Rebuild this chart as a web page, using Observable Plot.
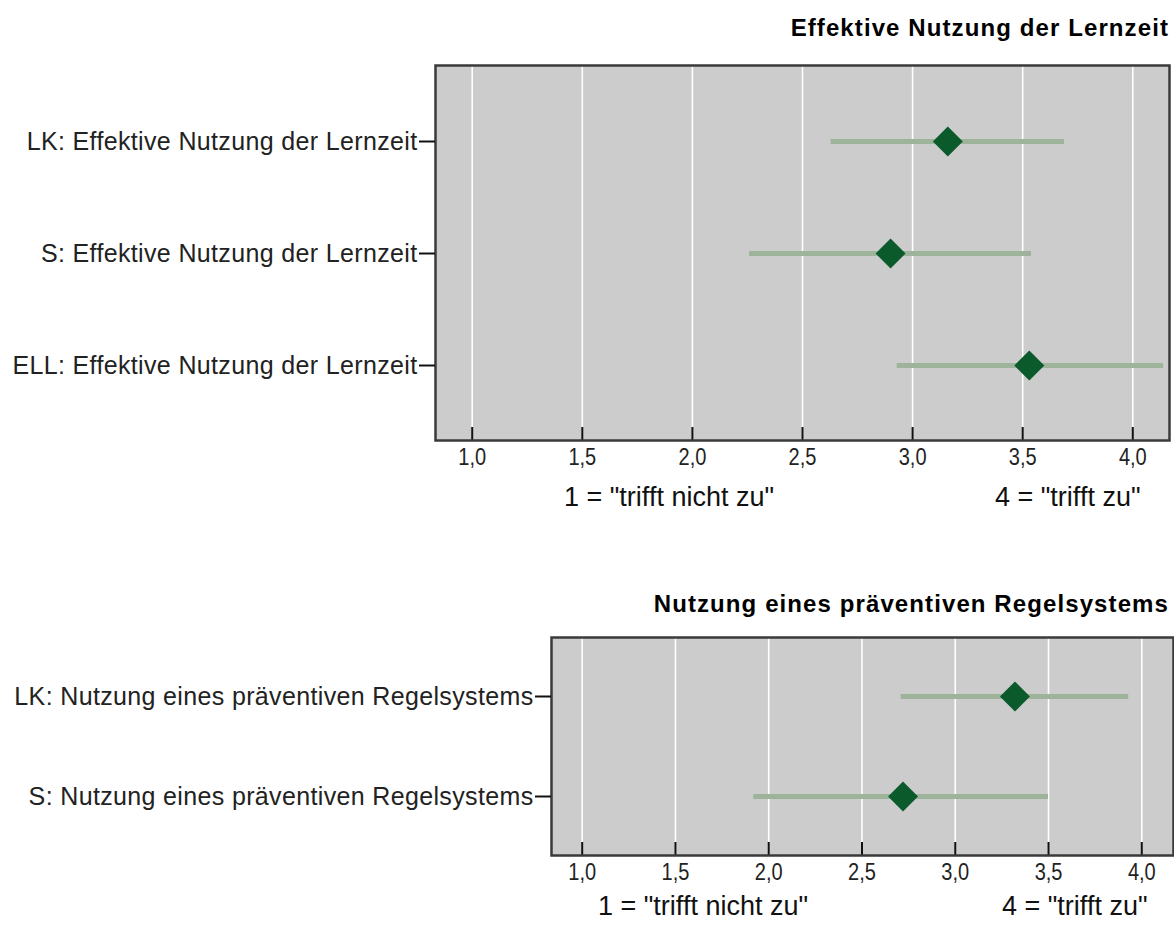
<!DOCTYPE html>
<html>
<head>
<meta charset="utf-8">
<script src="https://cdn.jsdelivr.net/npm/d3@7"></script>
<script src="https://cdn.jsdelivr.net/npm/@observablehq/plot@0.6"></script>
<style>
  html, body { margin: 0; padding: 0; background: #fff; }
  #wrap { position: relative; width: 1174px; height: 925px; overflow: hidden; }
  .panel { position: absolute; left: 0; }
  .title { position: absolute; right: 5px; font-family: "Liberation Sans", Arial, sans-serif; font-weight: bold; font-size: 24px; letter-spacing: 1.1px; color: #000; white-space: nowrap; line-height: 1; }
  .anchor { position: absolute; font-family: "Liberation Sans", Arial, sans-serif; font-size: 27px; color: #111; white-space: nowrap; line-height: 1; }
</style>
</head>
<body>
<div id="wrap"></div>
<script>
// ---- data ----
const topLabels = ["LK: Effektive Nutzung der Lernzeit", "S: Effektive Nutzung der Lernzeit", "ELL: Effektive Nutzung der Lernzeit"];
const topMean = [3.16, 2.90, 3.53];
const topLow  = [2.63, 2.26, 2.93];
const topHigh = [3.69, 3.54, 4.14];

const botLabels = ["LK: Nutzung eines präventiven Regelsystems", "S: Nutzung eines präventiven Regelsystems"];
const botMean = [3.32, 2.72];
const botLow  = [2.71, 1.92];
const botHigh = [3.93, 3.50];

const xTicks = [1, 1.5, 2, 2.5, 3, 3.5, 4];
const titles = ["Effektive Nutzung der Lernzeit", "Nutzung eines präventiven Regelsystems"];
const anchorLow = '1 = "trifft nicht zu"';
const anchorHigh = '4 = "trifft zu"';

// ---- style ----
const REG = '"Liberation Sans", Arial, sans-serif';
const BG = "#cccccc", BAR = "#9db49b", DOT = "#0b5a2c";
const fmt = d => d.toFixed(1).replace(".", ",");

function panel({labels, mean, low, high, width, height, mt, mb, ml, mr, domain, padding}) {
  const data = labels.map((l, i) => ({label: l, mean: mean[i], lo: low[i], hi: high[i]}));
  const plotH = height - mt - mb;
  const svg = Plot.plot({
    width, height,
    marginTop: mt, marginBottom: mb, marginLeft: ml, marginRight: mr,
    style: {background: "transparent", fontFamily: REG, overflow: "visible"},
    x: {domain, ticks: xTicks, tickFormat: fmt, label: null},
    y: {type: "point", domain: labels, padding, label: null},
    marks: [
      Plot.frame({fill: BG, stroke: "none"}),
      Plot.gridX(xTicks, {stroke: "#ffffff", strokeOpacity: 1, strokeWidth: 1.6}),
      Plot.ruleX(xTicks, {stroke: "#111", strokeWidth: 2, insetTop: plotH - 13}),
      Plot.ruleY(data, {y: "label", x1: "lo", x2: "hi", stroke: BAR, strokeWidth: 5}),
      Plot.dot(data, {x: "mean", y: "label", symbol: "diamond2", r: 13.5, fill: DOT, stroke: "none"}),
      Plot.frame({stroke: "#3a3a3a", strokeWidth: 2.5}),
      Plot.axisX(xTicks, {tickSize: 0, tickPadding: 8, fontSize: 23, fontFamily: REG, tickFormat: fmt, fill: "#222"}),
      Plot.axisY({tickSize: 16, tickPadding: 2, fontSize: 25, fontFamily: REG, stroke: "#111", strokeWidth: 2, fill: "#222"})
    ]
  });
  d3.select(svg).selectAll('g[aria-label="y-axis tick label"] text').style("letter-spacing", "0.35px");
  // condensed look for the x tick labels
  d3.select(svg).selectAll('g[aria-label="x-axis tick label"] text').each(function() {
    const t = this.getAttribute("transform") || "";
    this.setAttribute("transform", t + " scale(0.87,1)");
  });
  return svg;
}

const wrap = document.getElementById("wrap");

// top panel
const p1 = panel({labels: topLabels, mean: topMean, low: topLow, high: topHigh,
  width: 1174, height: 480, mt: 65, mb: 40, ml: 435, mr: 5,
  domain: [0.8333, 4.1667], padding: 0.665});
const d1 = document.createElement("div"); d1.className = "panel"; d1.style.top = "0px"; d1.appendChild(p1); wrap.appendChild(d1);

// bottom panel
const p2 = panel({labels: botLabels, mean: botMean, low: botLow, high: botHigh,
  width: 1174, height: 315, mt: 57, mb: 40, ml: 551, mr: 1,
  domain: [0.8355, 4.17], padding: 0.59});
const d2 = document.createElement("div"); d2.className = "panel"; d2.style.top = "580px"; d2.appendChild(p2); wrap.appendChild(d2);

function addText(cls, text, css) {
  const el = document.createElement("div");
  el.className = cls; el.textContent = text;
  Object.assign(el.style, css);
  wrap.appendChild(el);
}
addText("title", titles[0], {top: "16px"});
addText("title", titles[1], {top: "592px"});
addText("anchor", anchorLow, {left: "564px", top: "484px"});
addText("anchor", anchorHigh, {left: "995px", top: "484px"});
addText("anchor", anchorLow, {left: "598px", top: "893px"});
addText("anchor", anchorHigh, {left: "1002px", top: "893px"});
</script>
</body>
</html>
